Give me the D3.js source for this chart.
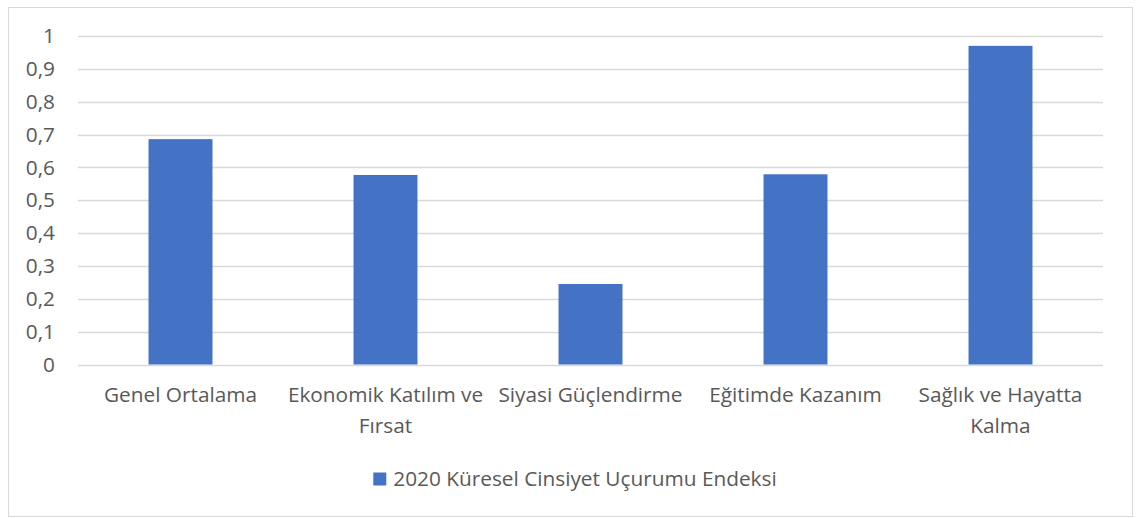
<!DOCTYPE html>
<html>
<head>
<meta charset="utf-8">
<script src="https://cdn.jsdelivr.net/npm/d3@7"></script>
<style>
  body { margin: 0; background: #fff; }
  text { font-family: "Open Sans", sans-serif; fill: #595959; }
</style>
</head>
<body>
<svg id="drawing_region"></svg>
<script>
const categories = ["Genel Ortalama", "Ekonomik Katılım ve Fırsat", "Siyasi Güçlendirme", "Eğitimde Kazanım", "Sağlık ve Hayatta Kalma"];
const values = [0.686, 0.577, 0.245, 0.579, 0.970];
const yTicks = [0, 0.1, 0.2, 0.3, 0.4, 0.5, 0.6, 0.7, 0.8, 0.9, 1];
const seriesName = "2020 Küresel Cinsiyet Uçurumu Endeksi";

let config = {
  parent: '#drawing_region',
  width: 1138,
  height: 518,
  margin: { top: 36, right: 35, bottom: 153.5, left: 78 },
  font_size: '20.8px',
};

class BarChart {

  constructor( config ) {
    this.config = config;
    this.init();
  }

  init() {
    let self = this;
    const m = self.config.margin;

    self.svg = d3.select( self.config.parent )
      .attr('width', self.config.width)
      .attr('height', self.config.height);

    // chart border
    self.svg.append('rect')
      .attr('x', 8.5).attr('y', 7.5)
      .attr('width', 1124).attr('height', 509)
      .attr('fill', 'none')
      .attr('stroke', '#d9d9d9');

    self.inner_width = self.config.width - m.left - m.right;
    self.inner_height = self.config.height - m.top - m.bottom;

    self.chart = self.svg.append('g')
      .attr('transform', `translate(${m.left}, ${m.top})`);

    self.xscale = d3.scaleBand()
      .domain(categories)
      .range([0, self.inner_width])
      .paddingInner(0.688)
      .paddingOuter(0.344);

    self.yscale = d3.scaleLinear()
      .domain([0, 1])
      .range([self.inner_height, 0]);
  }

  render() {
    let self = this;
    const fs = self.config.font_size;
    const fmt = d => d3.format('.1~f')(d).replace('.', ',');

    // gridlines
    self.chart.selectAll('.grid')
      .data(yTicks)
      .enter()
      .append('line')
      .attr('x1', 0).attr('x2', self.inner_width)
      .attr('y1', d => Math.round(self.yscale(d)) + 0.5)
      .attr('y2', d => Math.round(self.yscale(d)) + 0.5)
      .attr('stroke', '#d9d9d9')
      .attr('stroke-width', 1.3);

    // y axis labels
    const yaxis = self.chart.append('g')
      .call(d3.axisLeft(self.yscale).tickValues(yTicks).tickFormat(fmt).tickSize(0).tickPadding(23));
    yaxis.select('.domain').remove();
    yaxis.selectAll('text')
      .attr('font-size', fs)
      .attr('font-family', '"Open Sans", sans-serif')
      .attr('fill', '#595959');

    // bars
    self.chart.selectAll('.bar')
      .data(values)
      .enter()
      .append('rect')
      .attr('x', (d, i) => self.xscale(categories[i]))
      .attr('y', d => self.yscale(d))
      .attr('width', self.xscale.bandwidth())
      .attr('height', d => self.inner_height - self.yscale(d))
      .attr('fill', '#4472c4');

    // x labels, wrapped to the band step
    const xlab = self.chart.selectAll('.xlab')
      .data(categories)
      .enter()
      .append('text')
      .attr('text-anchor', 'middle')
      .attr('font-size', fs)
      .attr('transform', d => `translate(${self.xscale(d) + self.xscale.bandwidth() / 2}, ${self.inner_height + 37.5})`);

    const maxw = self.xscale.step();
    xlab.each(function(d) {
      const t = d3.select(this);
      const words = d.split(' ');
      let lines = [], line = [];
      const probe = t.append('tspan');
      words.forEach(w => {
        const test = line.concat([w]).join(' ');
        probe.text(test);
        if (probe.node().getComputedTextLength() > maxw && line.length) {
          lines.push(line.join(' '));
          line = [w];
        } else {
          line.push(w);
        }
      });
      lines.push(line.join(' '));
      probe.remove();
      lines.forEach((l, i) => {
        t.append('tspan').attr('x', 0).attr('y', i * 31).text(l);
      });
    });

    // legend
    const legend = self.svg.append('g');
    const ltext = legend.append('text')
      .attr('font-size', fs)
      .attr('x', 20)
      .attr('y', 486)
      .text(seriesName);
    const tw = ltext.node().getComputedTextLength();
    legend.append('rect')
      .attr('x', 0).attr('y', 472.5)
      .attr('width', 13).attr('height', 13)
      .attr('fill', '#4472c4');
    const lw = 20 + tw;
    legend.attr('transform', `translate(${575 - lw / 2}, 0)`);
  }
}

const bar_chart = new BarChart( config );
bar_chart.render();
</script>
</body>
</html>
